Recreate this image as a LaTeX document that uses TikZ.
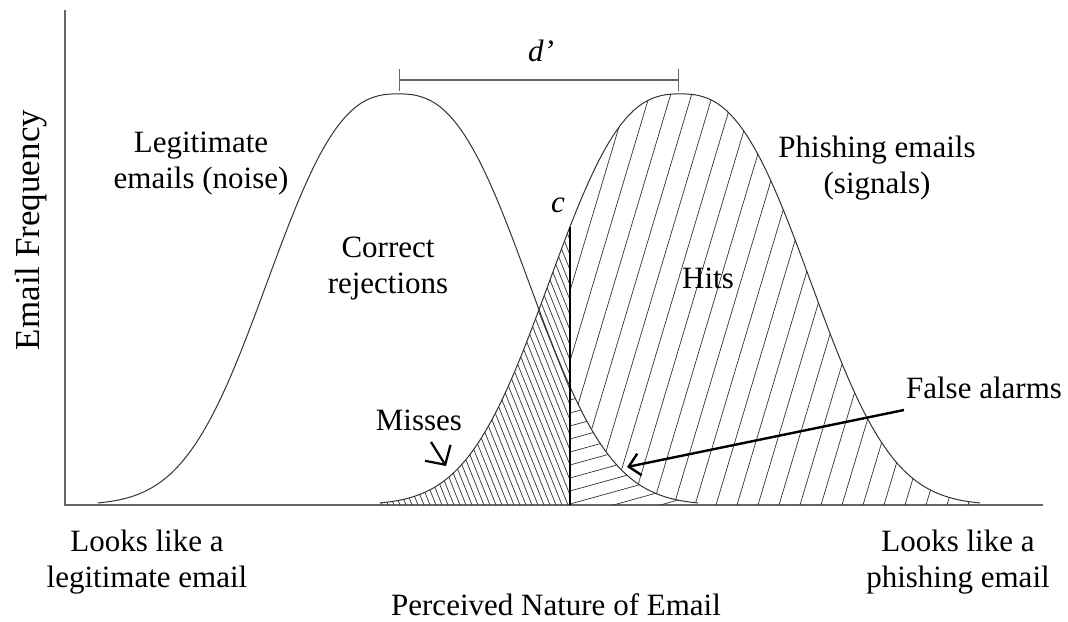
\documentclass[tikz,border=0pt]{standalone}
\usepackage{fontspec}
\setmainfont{Liberation Serif}
\usetikzlibrary{arrows.meta, calc}

\begin{document}
\begin{tikzpicture}[
  x=1pt, y=-1pt,
  declare function={noise(\x)=505-411*exp(-((abs(\x-398)+0.001)/158)^2.6);
                    signal(\x)=505-411*exp(-((abs(\x-680)+0.001)/158)^2.6);},
  lbl/.style={inner sep=0pt, anchor=base, align=center, font=\fontsize{31}{36}\selectfont},
  axis/.style={draw=black!60, line width=1.2pt},
  curve/.style={draw=black!80, line width=1pt},
  hatch/.style={draw=black!80, line width=0.7pt},
  crit/.style={draw=black, line width=2.8pt},
  bracket/.style={draw=black!60, line width=1.2pt, {Bar[width=22pt]}-{Bar[width=22pt]}},
  ptr/.style={draw=black, line width=2.4pt, -{Straight Barb[length=11pt, width=22pt]}}
]
\useasboundingbox (0,0) rectangle (1068,621);

\coordinate (ytop) at (65,10);
\coordinate (origin) at (65,505);
\coordinate (xend) at (1043,505);
\draw[axis] (ytop) -- (origin) -- (xend);

% hatching
\begin{scope}
  \clip plot[domain=380:570, samples=60] (\x,{signal(\x)}) -- (570,505) -- (380,505) -- cycle;
  \foreach \x in {382,388,...,710}
    \draw[hatch] (\x,505) -- ++(-170,-425);
\end{scope}
\begin{scope}
  \clip plot[domain=570:980, samples=100] (\x,{signal(\x)}) -- (980,505) -- (698,505)
        -- plot[domain=698:570, samples=40] (\x,{noise(\x)}) -- cycle;
  \foreach \x in {485,506,...,990}
    \draw[hatch] (\x,505) -- ++(127,-425);
\end{scope}
\begin{scope}
  \clip plot[domain=570:698, samples=40] (\x,{noise(\x)}) -- (698,505) -- (570,505) -- cycle;
  \foreach \y in {374,387,...,550}
    \draw[hatch] (570,\y) -- ++(130,-36);
\end{scope}

\draw[curve] plot[domain=98:698, samples=150] (\x,{noise(\x)});
\draw[curve] plot[domain=380:980, samples=150] (\x,{signal(\x)});

\coordinate (ctop) at (570,{signal(570)});
\coordinate (cbot) at (570,505);
\draw[crit] (ctop) -- (cbot);

\coordinate (dleft) at (399,80);
\coordinate (dright) at (679,80);
\draw[bracket] (dleft) -- (dright);

\node[lbl] (dprime) at (541,61) {\textit{d’}};
\node[lbl] (critlbl) at (558,212) {\textit{c}};
\node[lbl] (noiselbl) at (201,188) {Legitimate\\emails (noise)};
\node[lbl] (signallbl) at (877,193) {Phishing emails\\(signals)};
\node[lbl] (correct) at (388,293) {Correct\\rejections};
\node[lbl] (hits) at (708,288) {Hits};
\node[lbl] (falsealarm) at (984,398) {False alarms};
\node[lbl] (misses) at (419,430) {Misses};
\node[lbl, rotate=90, font=\fontsize{35}{40}\selectfont] (ylab) at (39,230) {Email Frequency};
\node[lbl] (leftend) at (147,587) {Looks like a\\legitimate email};
\node[lbl] (rightend) at (958,587) {Looks like a\\phishing email};
\node[lbl] (xlab) at (556,615) {Perceived Nature of Email};

\coordinate (missfrom) at (431,442);
\coordinate (missto) at (446,466);
\draw[ptr, line width=2.2pt, -{Straight Barb[length=14pt, width=30pt]}] (missfrom) -- (missto);
\coordinate (fafrom) at (904,410);
\coordinate (fato) at (627,467);
\draw[ptr] (fafrom) -- (fato);

\end{tikzpicture}
\end{document}
